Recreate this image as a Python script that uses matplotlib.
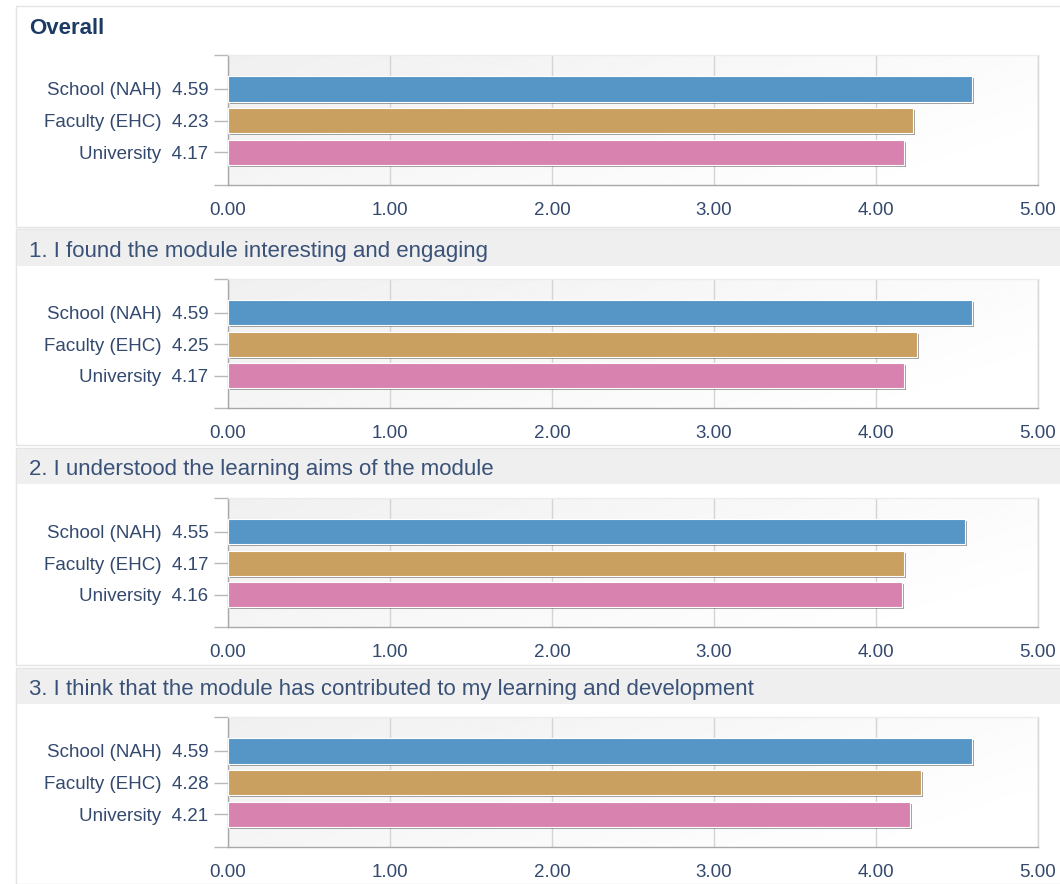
import numpy as np
import matplotlib
matplotlib.use("Agg")
import matplotlib.pyplot as plt
import matplotlib.patheffects as pe
from matplotlib.patches import Rectangle

plt.rcParams['font.family'] = ['Liberation Sans', 'DejaVu Sans']

groups = ["School (NAH)", "Faculty (EHC)", "University"]
titles = [
    "Overall",
    "1. I found the module interesting and engaging",
    "2. I understood the learning aims of the module",
    "3. I think that the module has contributed to my learning and development",
]
overall = [4.59, 4.23, 4.17]
q1_scores = [4.59, 4.25, 4.17]
q2_scores = [4.55, 4.17, 4.16]
q3_scores = [4.59, 4.28, 4.21]
all_scores = [overall, q1_scores, q2_scores, q3_scores]
x_ticks = [0, 1, 2, 3, 4, 5]

bar_colors = ["#5696c6", "#c9a060", "#d882b0"]
label_color = "#34496e"
head_color = "#3a5278"

W, H = 1060, 884
fig = plt.figure(figsize=(W / 100, H / 100), dpi=100)
fig.patch.set_facecolor("white")

# pixel layout of each block: (frame top, frame bottom, header band top/bottom, plot top/bottom)
blocks = [
    (6, 227, None, None, 55, 185),
    (229, 445, 230, 266, 279, 408),
    (448, 665, 449, 484, 498, 627),
    (668, 884, 669, 704, 717, 847),
]


def fx(px):
    return px / W


def fy(py):
    return 1 - py / H


# background gradient used inside every plot area
gx, gy = np.meshgrid(np.linspace(0, 1, 200), np.linspace(0, 1, 60))
grad = 0.94 + 0.06 * np.clip(0.75 * gx + 0.35 * (1 - gy), 0, 1)

for i, (ftop, fbot, btop, bbot, ptop, pbot) in enumerate(blocks):
    fig.patches.append(Rectangle((fx(16), fy(fbot)), fx(W - 15), (fbot - ftop) / H,
                                 transform=fig.transFigure, facecolor="white",
                                 edgecolor="#e4e4e4", lw=1, zorder=-2))
    if btop is None:
        fig.text(fx(29), fy(29), titles[i], fontsize=16, fontweight="bold",
                 color="#1d3a64", va="center", ha="left")
    else:
        fig.patches.append(Rectangle((fx(17), fy(bbot)), fx(W - 17), (bbot - btop) / H,
                                     transform=fig.transFigure, facecolor="#efefef",
                                     edgecolor="none", zorder=-1))
        fig.text(fx(29), fy((btop + bbot) / 2 + 3), titles[i], fontsize=16,
                 color=head_color, va="center", ha="left")

    ax = fig.add_axes([fx(228), fy(pbot), fx(1038 - 228), (pbot - ptop) / H])
    ax.set_zorder(2)
    ax.imshow(grad, cmap="gray", vmin=0, vmax=1, extent=[0, 1, 0, 1],
              transform=ax.transAxes, aspect="auto", zorder=0, origin="lower")
    scores = all_scores[i]
    y = np.arange(len(groups))
    bars = ax.barh(y, scores, height=0.8, color=bar_colors,
                   edgecolor="white", linewidth=0.8, zorder=3)
    for b in bars:
        b.set_path_effects([pe.SimplePatchShadow(offset=(1.5, -1.5), shadow_rgbFace="#444444", alpha=0.5),
                            pe.Normal()])

    ax.set_xlim(0, 5)
    ax.set_ylim(2 + 1.03, -1.07)
    ax.set_xticks(x_ticks)
    ax.set_xticklabels([f"{t:.2f}" for t in x_ticks])
    ax.set_yticks(y)
    ax.set_yticklabels([f"{g}  {s:.2f}" for g, s in zip(groups, scores)])
    ax.set_yticks([-1.07, 3.03], minor=True)
    ax.grid(axis="x", color="#d4d4d4", lw=1, zorder=1)
    ax.set_axisbelow(True)

    ax.tick_params(axis="y", length=10, width=1, color="#b8b8b8", pad=4,
                   labelsize=13.5, labelcolor=label_color)
    ax.tick_params(axis="y", which="minor", length=10, width=1, color="#b8b8b8")
    ax.tick_params(axis="x", length=0, pad=12, labelsize=13.5, labelcolor=label_color)

    ax.spines["left"].set_color("#a8a8a8")
    ax.spines["bottom"].set_color("#a8a8a8")
    ax.spines["top"].set_color("#ececec")
    ax.spines["right"].set_color("#d6d6d6")
    for s in ax.spines.values():
        s.set_linewidth(1)

fig.savefig("out.png", dpi=100, facecolor="white")
